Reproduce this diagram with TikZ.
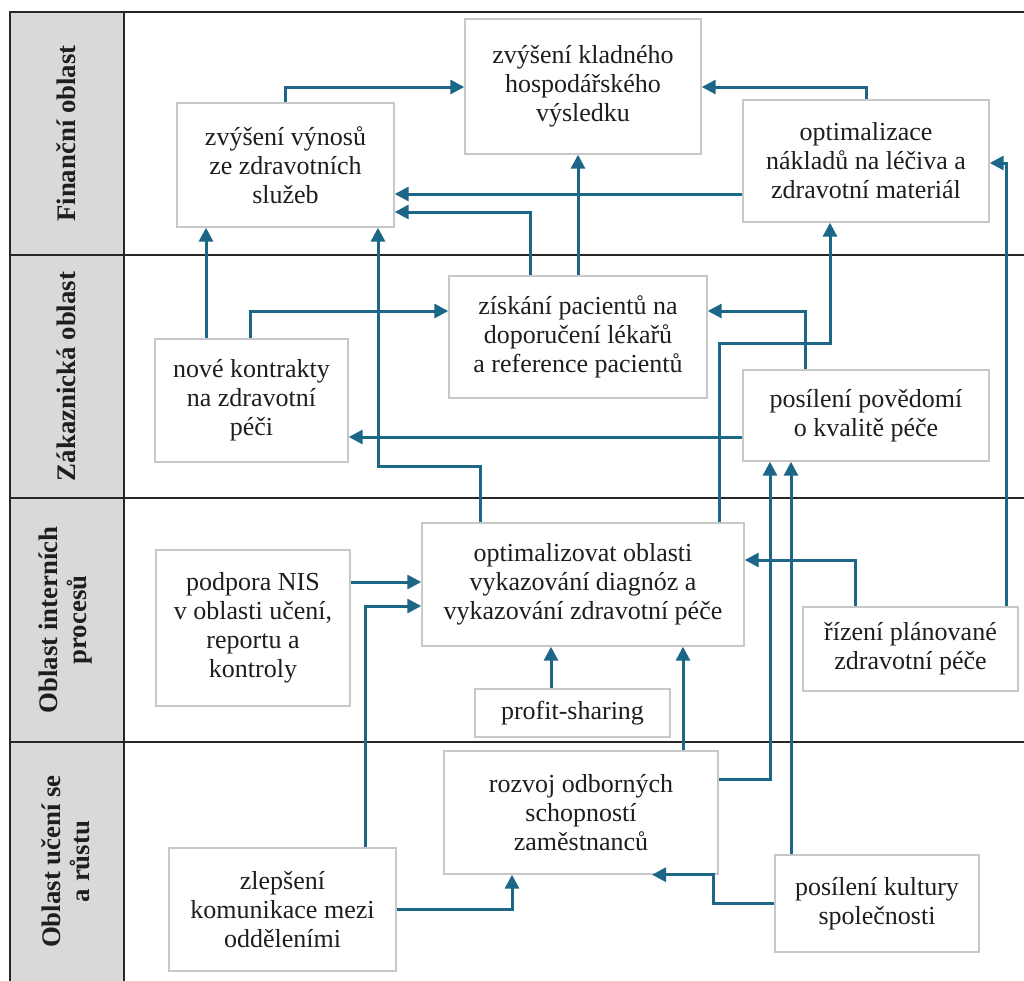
\documentclass[tikz,border=0pt]{standalone}
\usepackage{fontspec}
\setmainfont{Liberation Serif}
\usetikzlibrary{arrows.meta}
\definecolor{conncol}{RGB}{28,102,136}
\definecolor{boxgray}{RGB}{200,200,200}
\definecolor{bandgray}{RGB}{217,217,217}
\definecolor{txt}{RGB}{30,30,30}
\tikzset{
  box/.style={draw=boxgray, line width=0.7pt, fill=white, align=center, inner sep=0pt,
    text=txt, font=\fontsize{13}{14.5}\selectfont},
  lab/.style={rotate=90, align=center, inner sep=0pt, text=txt,
    font=\fontsize{13.4}{14.5}\selectfont\bfseries},
  conn/.style={draw=conncol, line width=1.5pt, -{Triangle[length=7pt,width=7pt]}},
  frameline/.style={draw=black!85, line width=0.75pt}
}
\begin{document}
\begin{tikzpicture}[x=0.5pt,y=-0.5pt]
\useasboundingbox (0,0) rectangle (1024,981);
% frame
\fill[bandgray] (10,12) rectangle (124,981);
\draw[frameline] (10,981) -- (10,12) -- (1024,12);
\draw[frameline] (124,12) -- (124,981);
\draw[frameline] (10,255) -- (1024,255);
\draw[frameline] (10,498) -- (1024,498);
\draw[frameline] (10,742) -- (1024,742);
% row labels
\node[lab] (l1) at (66,133.5) {Finanční oblast};
\node[lab] (l2) at (66,376.5) {Zákaznická oblast};
\node[lab] (l3) at (66,620) {Oblast interních\\procesů};
\node[lab] (l4) at (66,861.5) {Oblast učení se\\a růstu};
% boxes
\node[box, minimum width=118pt, minimum height=67.5pt] (b1) at (583,86.5) {zvýšení kladného\\hospodářského\\výsledku};
\node[box, minimum width=108.5pt, minimum height=62pt] (b2) at (285.5,165) {zvýšení výnosů\\ze zdravotních\\služeb};
\node[box, minimum width=123pt, minimum height=61pt] (b3) at (866,161) {optimalizace\\nákladů na léčiva a\\zdravotní materiál};
\node[box, minimum width=129pt, minimum height=61pt] (b4) at (578,337) {získání pacientů na\\doporučení lékařů\\a reference pacientů};
\node[box, minimum width=96.5pt, minimum height=61.5pt] (b5) at (251.5,400.5) {nové kontrakty\\na zdravotní\\péči};
\node[box, minimum width=123pt, minimum height=45.5pt] (b6) at (866,415.5) {posílení povědomí\\o kvalitě péče};
\node[box, minimum width=161pt, minimum height=61.5pt] (b7) at (583,584.5) {optimalizovat oblasti\\vykazování diagnóz a\\vykazování zdravotní péče};
\node[box, minimum width=97pt, minimum height=78pt] (b8) at (253,628) {podpora NIS\\v oblasti učení,\\reportu a\\kontroly};
\node[box, minimum width=97.5pt, minimum height=24pt] (b9) at (572.5,713) {profit-sharing};
\node[box, minimum width=107.5pt, minimum height=42pt] (b10) at (910.5,649) {řízení plánované\\zdravotní péče};
\node[box, minimum width=137pt, minimum height=61.5pt] (b11) at (581,812.5) {rozvoj odborných\\schopností\\zaměstnanců};
\node[box, minimum width=113.5pt, minimum height=61.5pt] (b12) at (282.5,909.5) {zlepšení\\komunikace mezi\\odděleními};
\node[box, minimum width=102pt, minimum height=48.5pt] (b13) at (877,903.5) {posílení kultury\\společnosti};
% connectors
\draw[conn] (285,0 |- b2.north) |- (b1.west |- 0,87);
\draw[conn] (866,0 |- b3.north) |- (b1.east |- 0,87);
\draw[conn] (b3.west |- 0,194) -- (b2.east |- 0,194);
\draw[conn] (530,0 |- b4.north) |- (b2.east |- 0,212);
\draw[conn] (578,0 |- b4.north) -- (578,0 |- b1.south);
\draw[conn] (719,0 |- b7.north) |- (830,343) -- (830,0 |- b3.south);
\draw[conn] (206,0 |- b5.north) -- (206,0 |- b2.south);
\draw[conn] (480,0 |- b7.north) |- (378,466) -- (378,0 |- b2.south);
\draw[conn] (250,0 |- b5.north) |- (b4.west |- 0,311);
\draw[conn] (805,0 |- b6.north) |- (b4.east |- 0,311);
\draw[conn] (b6.west |- 0,437) -- (b5.east |- 0,437);
\draw[conn] (b11.east |- 0,779) -| (770,0 |- b6.south);
\draw[conn] (791,0 |- b13.north) -- (791,0 |- b6.south);
\draw[conn] (1006,0 |- b10.north) |- (b3.east |- 0,163);
\draw[conn] (855,0 |- b10.north) |- (b7.east |- 0,560);
\draw[conn] (b8.east |- 0,582) -- (b7.west |- 0,582);
\draw[conn] (365,0 |- b12.north) |- (b7.west |- 0,606);
\draw[conn] (551,0 |- b9.north) -- (551,0 |- b7.south);
\draw[conn] (683,0 |- b11.north) -- (683,0 |- b7.south);
\draw[conn] (b12.east |- 0,909) -| (512,0 |- b11.south);
\draw[conn] (b13.west |- 0,903) -| (713,0 |- b11.south) -- (652,0 |- b11.south);
\end{tikzpicture}
\end{document}
